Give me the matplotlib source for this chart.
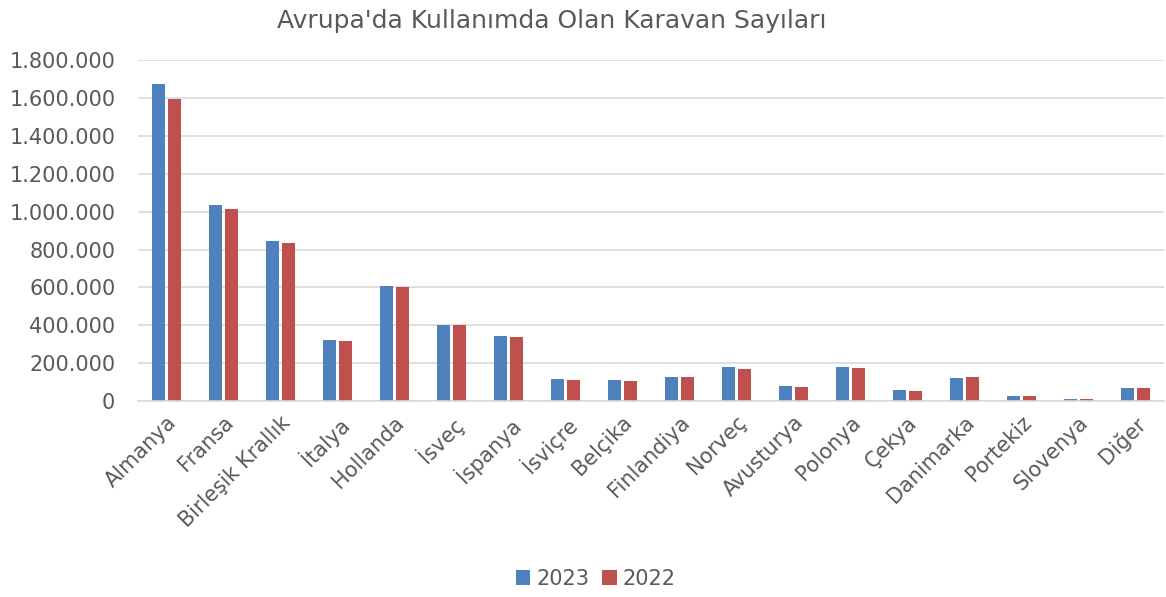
import numpy as np
import matplotlib.pyplot as plt
from matplotlib.ticker import FuncFormatter

countries = ['Almanya', 'Fransa', 'Birleşik Krallık', 'İtalya', 'Hollanda', 'İsveç',
             'İspanya', 'İsviçre', 'Belçika', 'Finlandiya', 'Norveç', 'Avusturya',
             'Polonya', 'Çekya', 'Danimarka', 'Portekiz', 'Slovenya', 'Diğer']
vals_2023 = [1675000, 1033000, 846000, 323000, 609000, 404000, 344000, 119000, 110000,
             128000, 179000, 81000, 180000, 58000, 123000, 26000, 12000, 67000]
vals_2022 = [1595000, 1016000, 832000, 316000, 600000, 403000, 337000, 110000, 107000,
             128000, 172000, 77000, 175000, 54000, 126000, 26000, 10000, 68000]

text_color = '#595959'
plt.rcParams['font.family'] = 'DejaVu Sans'

fig = plt.figure(figsize=(11.66, 5.97), dpi=100)
ax = fig.add_axes([0.118, 0.328, 0.880, 0.5715])

x = np.arange(len(countries))
w = 0.228
ax.bar(x - 0.14, vals_2023, w, color='#4f81bd', label='2023')
ax.bar(x + 0.14, vals_2022, w, color='#c0504d', label='2022')

ax.set_xlim(-0.5, len(countries) - 0.5)
ax.set_ylim(0, 1800000)
ax.set_yticks(np.arange(0, 1800001, 200000))
ax.yaxis.set_major_formatter(FuncFormatter(lambda v, p: f'{int(v):,}'.replace(',', '.')))
ax.grid(axis='y', color='#d9d9d9', linewidth=1.2)
ax.set_axisbelow(True)

for s in ['top', 'right', 'left']:
    ax.spines[s].set_visible(False)
ax.spines['bottom'].set_color('#d9d9d9')
ax.spines['bottom'].set_linewidth(1.2)

ax.set_xticks(x)
ax.set_xticklabels(countries, rotation=45, ha='right', rotation_mode='anchor')
ax.tick_params(axis='both', length=0, labelsize=15, colors=text_color)
ax.tick_params(axis='y', pad=16)
ax.tick_params(axis='x', pad=8)

fig.text(0.473, 0.965, "Avrupa'da Kullanımda Olan Karavan Sayıları", fontsize=18,
         color=text_color, ha='center', va='center')

fig.legend(loc='lower center', bbox_to_anchor=(0.511, -0.018), ncol=2, frameon=False,
           fontsize=15, labelcolor=text_color, handlelength=0.7, handleheight=0.7,
           handletextpad=0.3, columnspacing=0.6)

fig.savefig('out.png', dpi=100)
